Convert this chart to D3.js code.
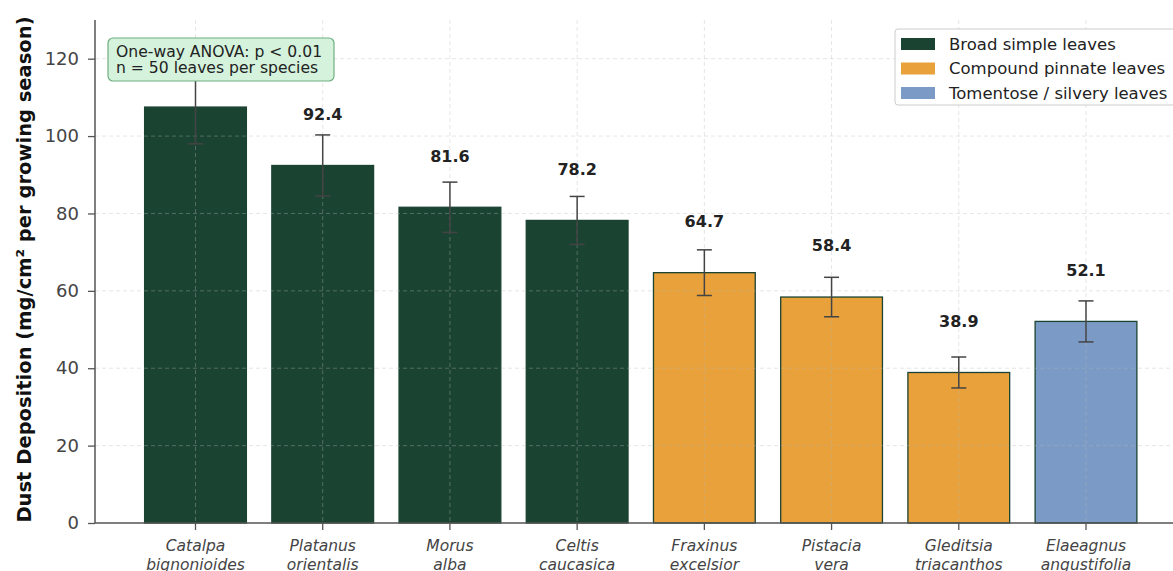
<!DOCTYPE html>
<html>
<head>
<meta charset="utf-8">
<script src="https://cdn.jsdelivr.net/npm/d3@7"></script>
<style>
body{margin:0;background:#fff;}
svg{display:block;font-family:"DejaVu Sans",sans-serif;}
</style>
</head>
<body>
<svg id="chart" width="1173" height="571"></svg>
<script>
// species, two-line tick labels
var species = ["Catalpa bignonioides","Platanus orientalis","Morus alba","Celtis caucasica",
	"Fraxinus excelsior","Pistacia vera","Gleditsia triacanthos","Elaeagnus angustifolia"];
var values = [107.5, 92.4, 81.6, 78.2, 64.7, 58.4, 38.9, 52.1];
var errors = [9.5, 7.9, 6.5, 6.2, 5.9, 5.1, 4.0, 5.3];
var groups = ["broad","broad","broad","broad","compound","compound","compound","tomentose"];
var groupNames = ["Broad simple leaves","Compound pinnate leaves","Tomentose / silvery leaves"];
var groupKeys = ["broad","compound","tomentose"];
var groupColors = ["#1b4332","#e8a13b","#7b9bc6"];
var yTicks = [0,20,40,60,80,100,120];
var noteLines = ["One-way ANOVA: p < 0.01","n = 50 leaves per species"];

var svg = d3.select("#chart");
var pLeft = 95, pBottom = 523, pTop = 20, pRight = 1186.5;

var x = d3.scaleBand().domain(species).range([pLeft, pRight]).paddingInner(0.2).paddingOuter(0.39);
var y = d3.scaleLinear().domain([0,130]).range([pBottom, pTop]);
var color = d3.scaleOrdinal().domain(groupKeys).range(groupColors);

// bars
svg.append("g").selectAll("rect").data(species).enter().append("rect")
	.attr("x", function(d){ return x(d); })
	.attr("y", function(d,i){ return y(values[i]); })
	.attr("width", x.bandwidth())
	.attr("height", function(d,i){ return pBottom - y(values[i]); })
	.attr("fill", function(d,i){ return color(groups[i]); })
	.attr("stroke", "#1b4332").attr("stroke-width", 1.3);

// grid (drawn over bars, faint)
var grid = svg.append("g").attr("stroke", "#b8b8b8").attr("stroke-opacity", 0.45)
	.attr("stroke-dasharray", "4,3").attr("stroke-width", 0.8);
grid.selectAll("line.h").data(yTicks.slice(1)).enter().append("line")
	.attr("x1", pLeft).attr("x2", 1173).attr("y1", function(d){ return y(d); }).attr("y2", function(d){ return y(d); });
grid.selectAll("line.v").data(species).enter().append("line")
	.attr("x1", function(d){ return x(d) + x.bandwidth()/2; })
	.attr("x2", function(d){ return x(d) + x.bandwidth()/2; })
	.attr("y1", pTop).attr("y2", pBottom);

// error bars
var eb = svg.append("g").attr("stroke", "#444").attr("stroke-width", 1.5);
species.forEach(function(d,i){
	var cx = x(d) + x.bandwidth()/2;
	var y1 = y(values[i] + errors[i]), y2 = y(values[i] - errors[i]);
	eb.append("line").attr("x1", cx).attr("x2", cx).attr("y1", y1).attr("y2", y2);
	eb.append("line").attr("x1", cx-7.5).attr("x2", cx+7.5).attr("y1", y1).attr("y2", y1);
	eb.append("line").attr("x1", cx-7.5).attr("x2", cx+7.5).attr("y1", y2).attr("y2", y2);
});

// value labels
svg.append("g").selectAll("text").data(species).enter().append("text")
	.attr("x", function(d){ return x(d) + x.bandwidth()/2; })
	.attr("y", function(d,i){ return y(values[i] + 11.8); })
	.attr("text-anchor", "middle").attr("font-weight", "bold").attr("font-size", "16px").attr("fill", "#222")
	.text(function(d,i){ return values[i].toFixed(1); });

// y axis
var yAxis = svg.append("g").attr("transform", "translate(" + pLeft + ",0)")
	.call(d3.axisLeft(y).tickValues(yTicks).tickSize(7).tickPadding(9));
yAxis.select(".domain").attr("d", "M0," + pTop + "V" + pBottom).attr("stroke", "#555").attr("stroke-width", 1.5);
yAxis.selectAll(".tick line").attr("stroke", "#555").attr("stroke-width", 1.3);
yAxis.selectAll(".tick text").attr("font-size", "18px").attr("fill", "#444").attr("font-family", "DejaVu Sans");

// x axis
var xAxis = svg.append("g").attr("transform", "translate(0," + pBottom + ")")
	.call(d3.axisBottom(x).tickSize(7).tickFormat(""));
xAxis.select(".domain").attr("d", "M" + pLeft + ",0H1173").attr("stroke", "#555").attr("stroke-width", 1.5);
xAxis.selectAll(".tick line").attr("stroke", "#555").attr("stroke-width", 1.3);
xAxis.selectAll(".tick").append("text")
	.attr("text-anchor", "middle").attr("font-size", "15.5px").attr("font-style", "italic").attr("fill", "#444")
	.attr("font-family", "DejaVu Sans")
	.each(function(d){
		var parts = d.split(" ");
		var t = d3.select(this);
		t.append("tspan").attr("x", 0).attr("y", 28).text(parts[0]);
		t.append("tspan").attr("x", 0).attr("y", 47).text(parts[1]);
	});

// y label
svg.append("text")
	.attr("transform", "translate(31," + ((pTop + pBottom)/2 - 2) + ") rotate(-90)")
	.attr("text-anchor", "middle").attr("font-weight", "bold").attr("font-size", "19.5px").attr("fill", "#111")
	.text("Dust Deposition (mg/cm² per growing season)");

// annotation box
var note = svg.append("g");
note.append("rect").attr("x", 108).attr("y", 38).attr("width", 226).attr("height", 43)
	.attr("rx", 5).attr("fill", "#d5f2dd").attr("stroke", "#6fae80").attr("stroke-width", 1.2);
note.selectAll("text").data(noteLines).enter().append("text")
	.attr("x", 116).attr("y", function(d,i){ return 57 + i*15.5; })
	.attr("font-size", "15.6px").attr("fill", "#222").text(function(d){ return d; });

// legend
var legend = svg.append("g");
legend.append("rect").attr("x", 895).attr("y", 29).attr("width", 300).attr("height", 76)
	.attr("rx", 3).attr("fill", "#fff").attr("fill-opacity", 0.85).attr("stroke", "#ccc");
groupNames.forEach(function(name, i){
	var ly = 44 + i*24.5;
	legend.append("rect").attr("x", 901).attr("y", ly - 6).attr("width", 34).attr("height", 12)
		.attr("fill", groupColors[i]);
	legend.append("text").attr("x", 949).attr("y", ly + 5.5).attr("font-size", "16.5px").attr("fill", "#222").text(name);
});
</script>
</body>
</html>
